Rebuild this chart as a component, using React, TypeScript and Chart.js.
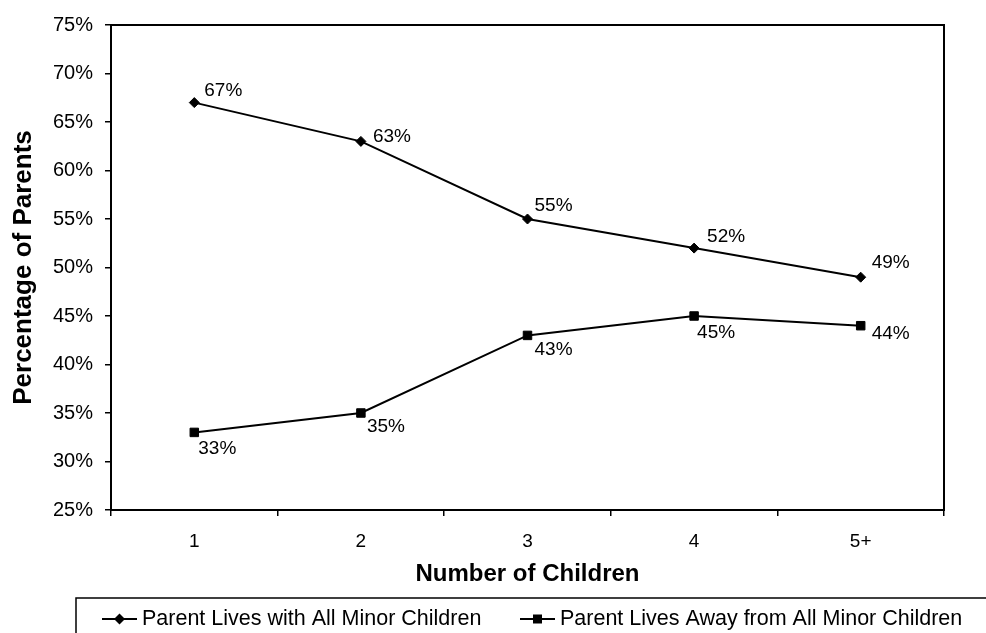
import React, { useEffect, useRef } from "react";
import { Chart, registerables } from "chart.js";

Chart.register(...registerables);

const categories = ["1", "2", "3", "4", "5+"];
const livesWith = [67, 63, 55, 52, 49];
const livesAway = [33, 35, 43, 45, 44];
const seriesNames = [
  "Parent Lives with All Minor Children",
  "Parent Lives Away from All Minor Children",
];
const yMin = 25;
const yMax = 75;
const yStep = 5;

// label offsets (styling only)
const labelOffsetsWith = [
  [10, -12], [12, -5], [7, -13], [13, -11], [11, -14],
];
const labelOffsetsAway = [
  [4, 16], [6, 14], [7, 14], [3, 17], [11, 8],
];

const FONT = "'Liberation Sans', Arial, sans-serif";

export default function App() {
  const ref = useRef<HTMLCanvasElement | null>(null);

  useEffect(() => {
    document.body.style.margin = "0";
    const canvas = ref.current!;
    const drawMarker = (ctx: CanvasRenderingContext2D, style: string, x: number, y: number) => {
      ctx.beginPath();
      if (style === "rect") {
        ctx.rect(x - 4.5, y - 4.5, 9, 9);
      } else {
        ctx.moveTo(x, y - 5.5);
        ctx.lineTo(x + 5.5, y);
        ctx.lineTo(x, y + 5.5);
        ctx.lineTo(x - 5.5, y);
        ctx.closePath();
      }
      ctx.fill();
    };
    const boxPlugin = {
      id: "boxAndLabels",
      afterDatasetsDraw(chart: any) {
        const { ctx, chartArea } = chart;
        ctx.save();
        ctx.strokeStyle = "#000";
        ctx.lineWidth = 2;
        ctx.strokeRect(
          chartArea.left,
          chartArea.top,
          chartArea.right - chartArea.left,
          chartArea.bottom - chartArea.top
        );
        ctx.fillStyle = "#000";
        ctx.font = `19px ${FONT}`;
        ctx.textAlign = "left";
        ctx.textBaseline = "middle";
        const offs = [labelOffsetsWith, labelOffsetsAway];
        chart.data.datasets.forEach((ds: any, di: number) => {
          const meta = chart.getDatasetMeta(di);
          meta.data.forEach((pt: any, i: number) => {
            const [dx, dy] = offs[di][i];
            ctx.fillText(`${ds.data[i]}%`, pt.x + dx, pt.y + dy);
          });
        });
        ctx.restore();
      },
      afterDraw(chart: any) {
        const { ctx } = chart;
        ctx.save();
        ctx.strokeStyle = "#000";
        ctx.lineWidth = 1.5;
        ctx.strokeRect(76, 598, 1000, 100);
        const items = [
          { x: 102, style: "rectRot" },
          { x: 520, style: "rect" },
        ];
        const cy = 619;
        ctx.font = `21.5px ${FONT}`;
        ctx.textBaseline = "middle";
        ctx.textAlign = "left";
        items.forEach((it, i) => {
          ctx.strokeStyle = "#000";
          ctx.lineWidth = 2;
          ctx.beginPath();
          ctx.moveTo(it.x, cy);
          ctx.lineTo(it.x + 35, cy);
          ctx.stroke();
          ctx.fillStyle = "#000";
          drawMarker(ctx, it.style, it.x + 17.5, cy);
          ctx.fillText(seriesNames[i], it.x + 40, cy);
        });
        ctx.restore();
      },
    };

    const chart = new Chart(canvas, {
      type: "line",
      data: {
        labels: categories,
        datasets: [
          {
            label: seriesNames[0],
            data: livesWith,
            borderColor: "#000",
            backgroundColor: "#000",
            borderWidth: 2,
            pointStyle: "rectRot",
            pointRadius: 5,
            pointBorderWidth: 1,
            tension: 0,
          },
          {
            label: seriesNames[1],
            data: livesAway,
            borderColor: "#000",
            backgroundColor: "#000",
            borderWidth: 2,
            pointStyle: "rect",
            pointRadius: 6,
            pointBorderWidth: 1,
            tension: 0,
          },
        ],
      },
      options: {
        responsive: false,
        animation: false,
        devicePixelRatio: 1,
        layout: { padding: { top: 25, right: 42, bottom: 40, left: 0 } },
        plugins: { legend: { display: false }, tooltip: { enabled: false } },
        scales: {
          x: {
            type: "category",
            offset: true,
            grid: {
              offset: true,
              drawOnChartArea: false,
              drawTicks: true,
              tickLength: 6,
              color: "#000",
              lineWidth: 1.5,
            },
            border: { display: false },
            ticks: {
              color: "#000",
              font: { family: FONT, size: 19 },
              padding: 14,
            },
            title: {
              display: true,
              text: "Number of Children",
              color: "#000",
              font: { family: FONT, size: 24, weight: "bold" },
              padding: { top: 0, bottom: 4 },
            },
            afterFit(scale: any) {
              scale.height = 83;
            },
          },
          y: {
            min: yMin,
            max: yMax,
            grid: {
              drawOnChartArea: false,
              drawTicks: true,
              tickLength: 6,
              color: "#000",
              lineWidth: 1.5,
            },
            border: { display: false },
            ticks: {
              stepSize: yStep,
              color: "#000",
              font: { family: FONT, size: 20 },
              padding: 12,
              callback: (v: any) => `${v}%`,
            },
            title: {
              display: true,
              text: "Percentage of Parents",
              color: "#000",
              font: { family: FONT, size: 26, weight: "bold" },
              padding: { top: 8, bottom: 0 },
            },
            afterFit(scale: any) {
              scale.width = 111;
            },
          },
        },
      },
      plugins: [boxPlugin],
    });
    return () => chart.destroy();
  }, []);

  return (
    <div style={{ position: "absolute", left: 0, top: 0, width: 986, height: 633, background: "#fff" }}>
      <canvas ref={ref} width={986} height={633} />
    </div>
  );
}
